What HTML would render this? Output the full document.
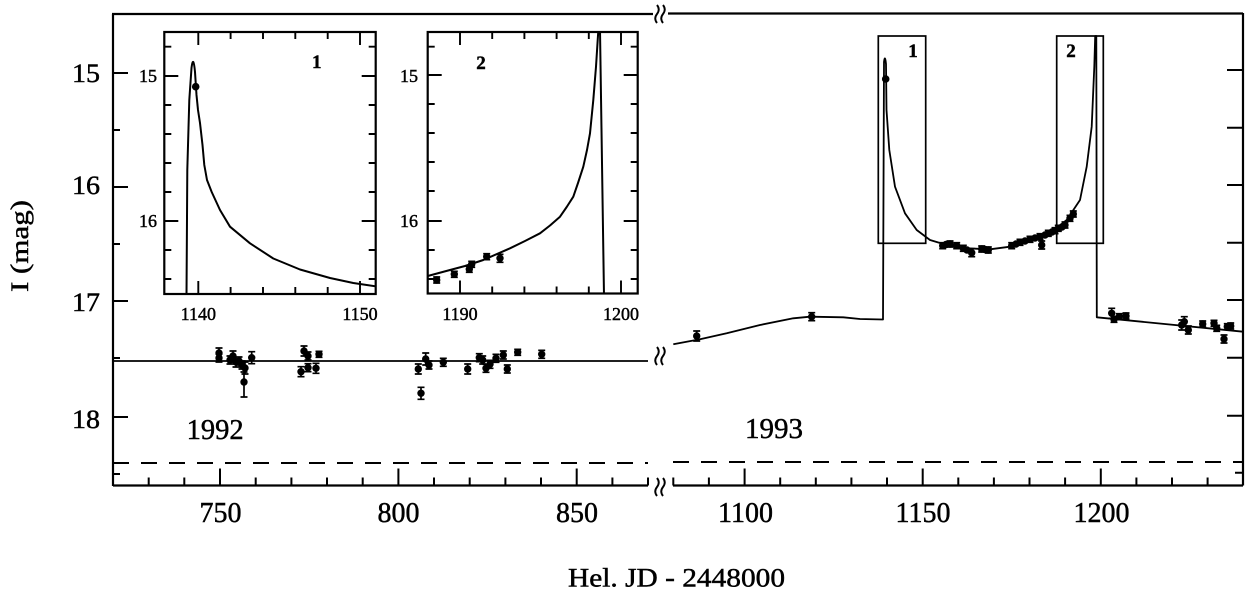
<!DOCTYPE html>
<html><head><meta charset="utf-8"><style>
html,body{margin:0;padding:0;background:#fff;}
svg{display:block;}
text{font-family:"Liberation Serif",serif;fill:#000;stroke:#000;stroke-width:0.45;}
</style></head><body>
<svg width="1250" height="592" viewBox="0 0 1250 592" xmlns="http://www.w3.org/2000/svg">
<defs>
<clipPath id="c1"><rect x="164.3" y="32" width="211.4" height="262"/></clipPath>
<clipPath id="c2"><rect x="427.7" y="32" width="210" height="261.5"/></clipPath>
</defs>
<g fill="none" stroke="#000" stroke-linecap="butt">
<!-- main frame -->
<path d="M113,14 V486 M113,485.5 H648 M673,485.5 H1243 M1243,13 V485.5 M112,14 H653 M668,13.5 H1243" stroke-width="2.2"/>
<!-- left y ticks -->
<path d="M113,73h15M113,187h15M113,301h15M113,417h15M113,130h7M113,244h7M113,358h7M113,474h7" stroke-width="2"/>
<!-- right y ticks -->
<path d="M1243,70h-16M1243,185h-16M1243,300h-16M1243,415.7h-16M1243,127.7h-16M1243,242.7h-16M1243,357.7h-16M1243,472.7h-8" stroke-width="2"/>
<!-- bottom ticks -->
<path d="M148.7,485.5v-8M184.3,485.5v-8M220,485.5v-17M255.7,485.5v-8M291.4,485.5v-8M327,485.5v-8M362.7,485.5v-8M398.4,485.5v-17M434,485.5v-8M469.7,485.5v-8M505.4,485.5v-8M541,485.5v-8M576.7,485.5v-17M612.4,485.5v-8M648,485.5v-8
M673.3,485.5v-8M708.9,485.5v-8M744.6,485.5v-17M780.2,485.5v-8M815.8,485.5v-8M851.4,485.5v-8M887,485.5v-8M922.7,485.5v-17M958.3,485.5v-8M993.9,485.5v-8M1029.5,485.5v-8M1065.1,485.5v-8M1100.8,485.5v-17M1136.4,485.5v-8M1172,485.5v-8M1207.6,485.5v-8" stroke-width="2"/>
<!-- break glyphs -->
<path d="M657,5 q3.5,4.5 0,9 q-3.5,4.5 0,9 M663,5 q3.5,4.5 0,9 q-3.5,4.5 0,9" stroke-width="1.9"/>
<path d="M657,347 q3.5,4.5 0,9 q-3.5,4.5 0,9 M663,347 q3.5,4.5 0,9 q-3.5,4.5 0,9" stroke-width="1.9"/>
<path d="M657,478 q3.5,4.5 0,9 q-3.5,4.5 0,9 M663,478 q3.5,4.5 0,9 q-3.5,4.5 0,9" stroke-width="1.9"/>
<!-- dashed line -->
<path d="M113,463 H648 M673,462 H1243" stroke-width="2" stroke-dasharray="16,12"/>
<!-- model curves main -->
<path d="M113,361 H648" stroke-width="1.8"/>
<path d="M673.3,344.3 L700,339.3 L726.7,333.3 L760,325 L793.3,318.3 L810,316.7 L843.3,317.3 L860,319 L883,319.5 L884,62 Q885,54 886,64 L886.5,110 L889.3,150 L895,186.7 L905,213.3 L916.7,230 L930,240 L946.7,245 L966.7,248.3 L990,249.3 L1010,246.7 L1030,240 L1050,233.3 L1066.7,220 L1080,200 L1086.7,166.7 L1091.7,126.7 L1094.3,66.7 L1095.2,36 L1096.3,36 L1096.8,317.3 L1243,331.7" stroke-width="1.8" stroke-linejoin="round"/>
<!-- boxes -->
<rect x="878.3" y="36" width="47.4" height="207.3" stroke-width="1.7"/>
<rect x="1056.7" y="36" width="46.6" height="207.3" stroke-width="1.7"/>
<!-- inset frames -->
<rect x="164.3" y="32" width="211.4" height="262" stroke-width="2.2"/>
<rect x="427.7" y="32" width="210" height="261.5" stroke-width="2.2"/>
<!-- inset 1 ticks -->
<path d="M198.3,32v13M230.6,32v7M263,32v7M295.3,32v7M327.7,32v7M360,32v13
M198.3,294v-13M230.6,294v-7M263,294v-7M295.3,294v-7M327.7,294v-7M360,294v-13
M164.3,46.7h7M164.3,76h14M164.3,105h7M164.3,134h7M164.3,163h7M164.3,192h7M164.3,221h14M164.3,250h7M164.3,279h7
M375.7,46.7h-7M375.7,76h-14M375.7,105h-7M375.7,134h-7M375.7,163h-7M375.7,192h-7M375.7,221h-14M375.7,250h-7M375.7,279h-7" stroke-width="1.9"/>
<!-- inset 2 ticks -->
<path d="M460,32v13M492.2,32v7M524.4,32v7M556.6,32v7M588.8,32v7M621,32v13
M460,293.5v-13M492.2,293.5v-7M524.4,293.5v-7M556.6,293.5v-7M588.8,293.5v-7M621,293.5v-13
M427.7,46.7h7M427.7,75h14M427.7,104h7M427.7,133h7M427.7,162h7M427.7,191h7M427.7,221h14M427.7,250h7M427.7,279h7
M637.7,46.7h-7M637.7,75h-14M637.7,104h-7M637.7,133h-7M637.7,162h-7M637.7,191h-7M637.7,221h-14M637.7,250h-7M637.7,279h-7" stroke-width="1.9"/>
<!-- inset curves -->
<path clip-path="url(#c1)" d="M186.5,296 L187.3,170 L189.3,100 L191.5,68 Q193.3,54 195,72 L196.5,95 L198,110 L200,123 L202.5,145 L204.3,165 L207,180 L211.7,192 L220,210 L230,226.7 L250,243.3 L273.3,258.5 L300,269.5 L330,278 L353.3,283 L377,286.5" stroke-width="2" stroke-linejoin="round"/>
<path clip-path="url(#c2)" d="M426,276.5 L450,270 L465,266 L483.3,260 L510,248.3 L525,241 L540,233.3 L550,225.5 L560,216.7 L566.7,207 L573.3,196.7 L578,183 L583.3,166.7 L587,150 L590,133.3 L593.3,100 L596,66.7 L597.7,40 L598.5,28 L600,30 L604,296" stroke-width="2" stroke-linejoin="round"/>
<!-- error bars left panel -->
<path stroke-width="1.7" d="M219,348V358M215.5,348h7M215.5,358h7M219,354V362M215.5,354h7M215.5,362h7M230,356V364M226.5,356h7M226.5,364h7M233,351V361M229.5,351h7M229.5,361h7M236,357V367M232.5,357h7M232.5,367h7M239,357V365M235.5,357h7M235.5,365h7M242,361V369M238.5,361h7M238.5,369h7M245,362V374M241.5,362h7M241.5,374h7M244,372V397M240.5,372h7M240.5,397h7M251.7,351.7V363.7M248.2,351.7h7M248.2,363.7h7
M304,346V356M300.5,346h7M300.5,356h7M308,352V360M304.5,352h7M304.5,360h7M301,366.7V376.7M297.5,366.7h7M297.5,376.7h7M308,363.7V371.7M304.5,363.7h7M304.5,371.7h7M316,363.3V373.3M312.5,363.3h7M312.5,373.3h7M319,351.3V357.3M315.5,351.3h7M315.5,357.3h7
M418.3,364V374M414.8,364h7M414.8,374h7M421,387.3V399.3M417.5,387.3h7M417.5,399.3h7M425.7,353V365M422.2,353h7M422.2,365h7M429,361V369M425.5,361h7M425.5,369h7M443.3,358.3V366.3M439.8,358.3h7M439.8,366.3h7
M467.7,364V374M464.2,364h7M464.2,374h7M479.3,353.7V361.7M475.8,353.7h7M475.8,361.7h7M482.7,356V364M479.2,356h7M479.2,364h7M486,364.3V372.3M482.5,364.3h7M482.5,372.3h7M490,360.3V368.3M486.5,360.3h7M486.5,368.3h7M496,354.3V362.3M492.5,354.3h7M492.5,362.3h7M503.3,351V359M499.8,351h7M499.8,359h7M507.3,365V373M503.8,365h7M503.8,373h7M517.7,349.3V355.3M514.2,349.3h7M514.2,355.3h7M541.7,350.3V358.3M538.2,350.3h7M538.2,358.3h7"/>
<!-- error bars right panel -->
<path stroke-width="1.7" d="M696.7,331V341M693.2,331h7M693.2,341h7M811.7,312.7V320.7M808.2,312.7h7M808.2,320.7h7
M1111.7,308.3V318.3M1108.2,308.3h7M1108.2,318.3h7M1114,316.3V322.3M1110.5,316.3h7M1110.5,322.3h7M1119.3,313.7V319.7M1115.8,313.7h7M1115.8,319.7h7M1126,313V319M1122.5,313h7M1122.5,319h7
M1181.7,320V330M1178.2,320h7M1178.2,330h7M1184.3,316.7V326.7M1180.8,316.7h7M1180.8,326.7h7M1188.3,326V334M1184.8,326h7M1184.8,334h7M1202.7,321V327M1199.2,321h7M1199.2,327h7M1214,320.3V326.3M1210.5,320.3h7M1210.5,326.3h7M1216.7,325.3V331.3M1213.2,325.3h7M1213.2,331.3h7M1224,335V343M1220.5,335h7M1220.5,343h7M1227.3,323.7V329.7M1223.8,323.7h7M1223.8,329.7h7M1230.7,323V329M1227.2,323h7M1227.2,329h7
M942.7,242.7V248.7M939.2,242.7h7M939.2,248.7h7M950,241V247M946.5,241h7M946.5,247h7M956.7,242.7V248.7M953.2,242.7h7M953.2,248.7h7M963.3,245.3V251.3M959.8,245.3h7M959.8,251.3h7M971.7,248.7V256.7M968.2,248.7h7M968.2,256.7h7M981.7,246V252M978.2,246h7M978.2,252h7M988.3,247V253M984.8,247h7M984.8,253h7M1011.7,242.7V248.7M1008.2,242.7h7M1008.2,248.7h7M1020,239.3V245.3M1016.5,239.3h7M1016.5,245.3h7M1030,236.3V242.3M1026.5,236.3h7M1026.5,242.3h7M1040,233.7V239.7M1036.5,233.7h7M1036.5,239.7h7M1041.7,241V249M1038.2,241h7M1038.2,249h7M1048.3,230.3V236.3M1044.8,230.3h7M1044.8,236.3h7M1055,227.7V233.7M1051.5,227.7h7M1051.5,233.7h7M1058.3,225.3V231.3M1054.8,225.3h7M1054.8,231.3h7M1065,222V228M1061.5,222h7M1061.5,228h7M1070,215.3V221.3M1066.5,215.3h7M1066.5,221.3h7M1073.3,211V217M1069.8,211h7M1069.8,217h7
M436.7,277V283M433.2,277h7M433.2,283h7M454.3,271.3V277.3M450.8,271.3h7M450.8,277.3h7M469.3,266.3V272.3M465.8,266.3h7M465.8,272.3h7M471.7,261.3V267.3M468.2,261.3h7M468.2,267.3h7M486.7,253.7V259.7M483.2,253.7h7M483.2,259.7h7M500,254.3V262.3M496.5,254.3h7M496.5,262.3h7"/>
</g>
<!-- markers -->
<g fill="#000">
<circle cx="219" cy="353" r="3.7"/><circle cx="219" cy="358" r="3.7"/><circle cx="230" cy="360" r="3.7"/><circle cx="233" cy="356" r="3.7"/><circle cx="236" cy="362" r="3.7"/><circle cx="239" cy="361" r="3.7"/><circle cx="242" cy="365" r="3.7"/><circle cx="245" cy="368" r="3.7"/><circle cx="244" cy="382" r="3.7"/><circle cx="251.7" cy="357.7" r="3.7"/>
<circle cx="304" cy="351" r="3.7"/><circle cx="308" cy="356" r="3.7"/><circle cx="301" cy="371.7" r="3.7"/><circle cx="308" cy="367.7" r="3.7"/><circle cx="316" cy="368.3" r="3.7"/><circle cx="319" cy="354.3" r="3.7"/>
<circle cx="418.3" cy="369" r="3.7"/><circle cx="421" cy="393.3" r="3.7"/><circle cx="425.7" cy="359" r="3.7"/><circle cx="429" cy="365" r="3.7"/><circle cx="443.3" cy="362.3" r="3.7"/>
<circle cx="467.7" cy="369" r="3.7"/><circle cx="479.3" cy="357.7" r="3.7"/><circle cx="482.7" cy="360" r="3.7"/><circle cx="486" cy="368.3" r="3.7"/><circle cx="490" cy="364.3" r="3.7"/><circle cx="496" cy="358.3" r="3.7"/><circle cx="503.3" cy="355" r="3.7"/><circle cx="507.3" cy="369" r="3.7"/><circle cx="517.7" cy="352.3" r="3.7"/><circle cx="541.7" cy="354.3" r="3.7"/>
<circle cx="696.7" cy="336" r="3.7"/><circle cx="811.7" cy="316.7" r="3.7"/><circle cx="885.7" cy="79" r="3.8"/>
<circle cx="942.7" cy="245.7" r="3.7"/><circle cx="946" cy="244.5" r="3.7"/><circle cx="950" cy="244" r="3.7"/><circle cx="956.7" cy="245.7" r="3.7"/><circle cx="963.3" cy="248.3" r="3.7"/><circle cx="967" cy="250" r="3.7"/><circle cx="971.7" cy="252.7" r="3.7"/><circle cx="981.7" cy="249" r="3.7"/><circle cx="985" cy="249.5" r="3.7"/><circle cx="988.3" cy="250" r="3.7"/>
<circle cx="1011.7" cy="245.7" r="3.7"/><circle cx="1016" cy="244" r="3.7"/><circle cx="1020" cy="242.3" r="3.7"/><circle cx="1025" cy="241" r="3.7"/><circle cx="1030" cy="239.3" r="3.7"/><circle cx="1035" cy="238" r="3.7"/><circle cx="1040" cy="236.7" r="3.7"/><circle cx="1041.7" cy="245" r="3.7"/><circle cx="1045" cy="235" r="3.7"/><circle cx="1048.3" cy="233.3" r="3.7"/><circle cx="1052" cy="232" r="3.7"/><circle cx="1055" cy="230.7" r="3.7"/><circle cx="1058.3" cy="228.3" r="3.7"/><circle cx="1062" cy="227" r="3.7"/><circle cx="1065" cy="225" r="3.7"/><circle cx="1070" cy="218.3" r="3.7"/><circle cx="1073.3" cy="214" r="3.7"/>
<circle cx="1111.7" cy="313.3" r="3.7"/><circle cx="1114" cy="319.3" r="3.7"/><circle cx="1119.3" cy="316.7" r="3.7"/><circle cx="1126" cy="316" r="3.7"/><circle cx="1181.7" cy="325" r="3.7"/><circle cx="1184.3" cy="321.7" r="3.7"/><circle cx="1188.3" cy="330" r="3.7"/><circle cx="1202.7" cy="324" r="3.7"/><circle cx="1214" cy="323.3" r="3.7"/><circle cx="1216.7" cy="328.3" r="3.7"/><circle cx="1224" cy="339" r="3.7"/><circle cx="1227.3" cy="326.7" r="3.7"/><circle cx="1230.7" cy="326" r="3.7"/>
<circle cx="195.7" cy="86.7" r="3.8"/>
<circle cx="436.7" cy="280" r="3.7"/><circle cx="454.3" cy="274.3" r="3.7"/><circle cx="469.3" cy="269.3" r="3.7"/><circle cx="471.7" cy="264.3" r="3.7"/><circle cx="486.7" cy="256.7" r="3.7"/><circle cx="500" cy="258.3" r="3.7"/>
</g>
<!-- text -->
<g font-size="26" text-anchor="end">
<text x="100" y="82" textLength="28" lengthAdjust="spacingAndGlyphs">15</text>
<text x="100" y="194" textLength="28" lengthAdjust="spacingAndGlyphs">16</text>
<text x="100" y="311" textLength="28" lengthAdjust="spacingAndGlyphs">17</text>
<text x="100" y="428" textLength="28" lengthAdjust="spacingAndGlyphs">18</text>
</g>
<g font-size="28" text-anchor="middle">
<text x="220.5" y="522">750</text>
<text x="398.5" y="522">800</text>
<text x="577" y="522">850</text>
<text x="745.5" y="522">1100</text>
<text x="923" y="522">1150</text>
<text x="1101.5" y="522">1200</text>
</g>
<g font-size="18" text-anchor="end" style="stroke-width:0.6">
<text x="157" y="82">15</text>
<text x="157" y="227">16</text>
<text x="418" y="82">15</text>
<text x="418" y="227">16</text>
</g>
<g font-size="18" text-anchor="middle" style="stroke-width:0.6">
<text x="198.3" y="320">1140</text>
<text x="360" y="320">1150</text>
<text x="460" y="320">1190</text>
<text x="621" y="320">1200</text>
</g>
<g font-size="19" font-weight="bold" text-anchor="middle">
<text x="316.7" y="68">1</text>
<text x="481" y="69">2</text>
<text x="913" y="57">1</text>
<text x="1071" y="57">2</text>
</g>
<text x="186.7" y="439" font-size="28" textLength="57" lengthAdjust="spacingAndGlyphs">1992</text>
<text x="745" y="438" font-size="28" textLength="58" lengthAdjust="spacingAndGlyphs">1993</text>
<text x="568" y="586.5" font-size="26" textLength="217" lengthAdjust="spacingAndGlyphs">Hel. JD - 2448000</text>
<text transform="translate(28,246) rotate(-90)" font-size="25" text-anchor="middle" textLength="92" lengthAdjust="spacingAndGlyphs">I (mag)</text>
</svg>
</body></html>
